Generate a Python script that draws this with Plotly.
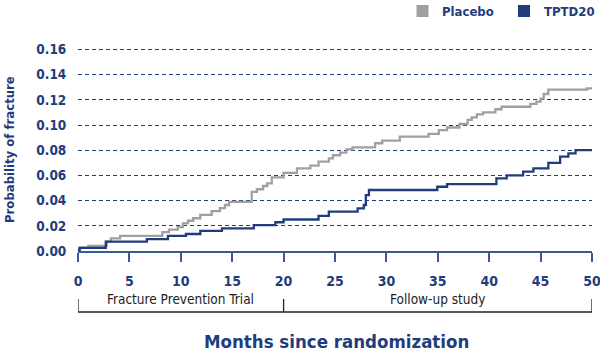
import plotly.graph_objects as go

# ---- data ----
placebo_months = [0, 0.2, 1.0, 2.8, 3.2, 4.1, 8.2, 8.85, 9.7, 10.2, 10.7, 11.2, 11.9, 13.0, 13.8, 14.3, 14.7,
                  16.9, 17.4, 18.0, 18.4, 18.85, 20.0, 21.3, 22.6, 23.4, 24.4, 24.8, 25.5, 26.1, 26.7,
                  28.9, 29.6, 31.3, 34.1, 35.1, 35.9, 37.1, 37.9, 38.3, 38.8, 39.4, 40.6, 41.2, 44.0,
                  44.6, 45.0, 45.3, 45.75, 49.5, 50]
placebo_prob = [0.0, 0.0026, 0.004, 0.0074, 0.010, 0.012, 0.015, 0.017, 0.019, 0.022, 0.024, 0.026, 0.0286,
                0.0317, 0.034, 0.0365, 0.039, 0.047, 0.049, 0.0516, 0.0537, 0.0585, 0.062, 0.0656, 0.0677,
                0.0709, 0.0735, 0.076, 0.078, 0.0807, 0.0823, 0.0855, 0.0876, 0.0907, 0.0929, 0.096, 0.098,
                0.1008, 0.104, 0.106, 0.1085, 0.110, 0.1125, 0.1145, 0.1167, 0.1185, 0.121, 0.1246, 0.128,
                0.129, 0.129]

tptd_months = [0, 0.15, 2.7, 6.7, 8.75, 10.5, 11.9, 14.0, 17.1, 19.2, 20.0, 23.4, 24.4, 27.2, 27.8, 28.0,
               28.3, 34.95, 35.9, 40.7, 41.7, 43.3, 44.3, 45.75, 46.9, 47.7, 48.4, 50]
tptd_prob = [0.0008, 0.0025, 0.0074, 0.0095, 0.012, 0.0135, 0.0159, 0.018, 0.0206, 0.0228, 0.025, 0.0278,
             0.0312, 0.0339, 0.0365, 0.0444, 0.0484, 0.051, 0.053, 0.0577, 0.060, 0.063, 0.0656, 0.070,
             0.0749, 0.0775, 0.080, 0.080]

y_ticks = [0, 0.02, 0.04, 0.06, 0.08, 0.10, 0.12, 0.14, 0.16]
y_labels = ["0.00", "0.02", "0.04", "0.06", "0.08", "0.10", "0.12", "0.14", "0.16"]
x_ticks = [0, 5, 10, 15, 20, 25, 30, 35, 40, 45, 50]

series_names = ["Placebo", "TPTD20"]
periods = ["Fracture Prevention Trial", "Follow-up study"]
period_bounds = [(0, 20), (20, 50)]

# ---- style ----
BLUE = "#1f3d7c"
GRAY = "#a0a0a0"
AXIS = "#3a5a92"
FONT = "DejaVu Sans Condensed, Liberation Sans Narrow, Arial Narrow, sans-serif"

W, H = 600, 357
ML, MR, MT, MB = 78, 8, 43, 106
PW, PH = W - ML - MR, H - MT - MB


def py(p):
    return (H - MB - p) / PH  # pixel y -> paper y


def px(p):
    return (p - ML) / PW


fig = go.Figure()
fig.add_trace(go.Scatter(x=placebo_months, y=placebo_prob, mode="lines", line=dict(color=GRAY, width=2.3, shape="hv"),
                         name=series_names[0], showlegend=False))
fig.add_trace(go.Scatter(x=tptd_months, y=tptd_prob, mode="lines", line=dict(color=BLUE, width=2.3, shape="hv"),
                         name=series_names[1], showlegend=False))

shapes = []
annotations = []

# bracket below axis
for (a, b), label in zip(period_bounds, periods):
    annotations.append(dict(x=(a + b) / 2, xref="x", y=py(299), yref="paper", text=label, showarrow=False,
                            font=dict(family=FONT, size=13.5, color="#222222"), xanchor="center", yanchor="middle"))
shapes.append(dict(type="line", xref="x", yref="paper", x0=period_bounds[0][0], x1=period_bounds[-1][1],
                   y0=py(312), y1=py(312), line=dict(color="#222222", width=1.3)))
for v in [period_bounds[0][0], period_bounds[0][1], period_bounds[-1][1]]:
    shapes.append(dict(type="line", xref="x", yref="paper", x0=v, x1=v, y0=py(299), y1=py(312),
                       line=dict(color="#222222", width=1.3)))

# axis titles
annotations.append(dict(x=px(336), xref="paper", y=py(341), yref="paper", text="Months since randomization",
                        showarrow=False, font=dict(family=FONT, size=18.5, color=BLUE, weight="bold"),
                        xanchor="center", yanchor="middle"))
annotations.append(dict(x=px(9), xref="paper", y=py(150), yref="paper", text="Probability of fracture",
                        textangle=-90, showarrow=False, font=dict(family=FONT, size=13, color=BLUE, weight="bold"),
                        xanchor="center", yanchor="middle"))

# legend
for (sx, tx), name, col in zip([(422.5, 440), (524, 542)], series_names, [GRAY, BLUE]):
    shapes.append(dict(type="rect", xref="paper", yref="paper", x0=px(sx - 6), x1=px(sx + 6),
                       y0=py(17), y1=py(5), fillcolor=col, line=dict(width=0)))
    annotations.append(dict(x=px(tx), xref="paper", y=py(11), yref="paper", text=name, showarrow=False,
                            font=dict(family=FONT, size=13, color=BLUE, weight="bold"),
                            xanchor="left", yanchor="middle"))

fig.update_layout(
    width=W, height=H,
    margin=dict(l=ML, r=MR, t=MT, b=MB, autoexpand=False),
    paper_bgcolor="white", plot_bgcolor="white",
    showlegend=False,
    shapes=shapes, annotations=annotations,
    xaxis=dict(range=[0, 50.0001], tickvals=x_ticks, ticks="outside", ticklen=9, tickwidth=1.5, tickcolor=AXIS,
               showline=True, linecolor=AXIS, linewidth=1.5, showgrid=False, zeroline=False, automargin=False,
               ticklabeloverflow="allow",
               tickfont=dict(family=FONT, size=14, color=BLUE, weight="bold"), ticklabelstandoff=7),
    yaxis=dict(range=[0, PH / 1260], tickvals=y_ticks, ticktext=y_labels, ticks="outside", ticklen=8,
               tickcolor="rgba(0,0,0,0)", showline=False, zeroline=False, automargin=False,
               showgrid=True, gridcolor=BLUE, gridwidth=1.3, griddash="4px,3px",
               tickfont=dict(family=FONT, size=13.5, color=BLUE, weight="bold")),
)

fig.write_html("out.html", config={"displayModeBar": False},
               post_script="document.body.style.margin='0';document.documentElement.style.overflow='hidden';")
